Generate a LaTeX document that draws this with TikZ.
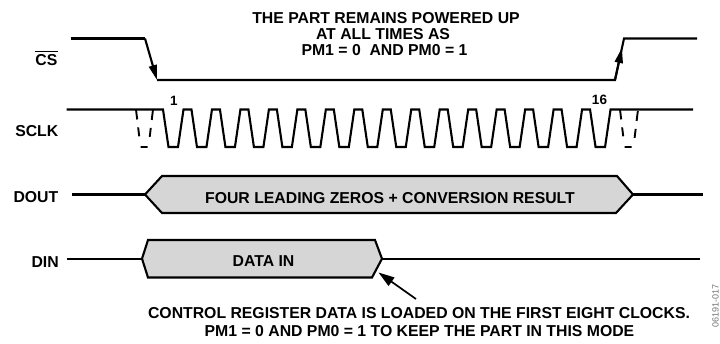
\documentclass[tikz,border=0pt]{standalone}
\usepackage{fontspec}
\setmainfont{Liberation Sans}
\usetikzlibrary{arrows.meta}
\begin{document}
\begin{tikzpicture}[x=1pt,y=-1pt,
  sig/.style={line width=2.1pt},
  bus/.style={line width=2.1pt, fill=black!16, line join=miter},
  lbl/.style={font=\fontsize{15.8}{16}\selectfont\bfseries, inner sep=0pt},
  num/.style={font=\fontsize{13.5}{14}\selectfont\bfseries, inner sep=0pt},
  code/.style={font=\fontsize{9}{9}\selectfont, text=black!55, inner sep=0pt},
  ghost/.style={line width=1.9pt, dash pattern=on 10pt off 8pt on 9pt off 11pt on 7pt off 11pt on 9pt off 8pt on 10pt off 100pt},
  arr/.style={-{Triangle[length=15pt,width=8pt]}},
  arrb/.style={-{Triangle[length=16pt,width=10pt]}}
]
\useasboundingbox (0,0) rectangle (720,343);

% ---- coordinates
\coordinate (csA) at (70.7,38.5);
\coordinate (csB) at (145,38.5);
\coordinate (csC) at (157,80);
\coordinate (csD) at (615,80);
\coordinate (csE) at (624,38.5);
\coordinate (csF) at (697,38.5);
\coordinate (csM) at (621.9,48);

% ---- CS
\draw[sig] (csA) -- (csB);
\draw[sig,arr] (csB) -- (csC);
\draw[sig] (csC) -- (csD) -- (csE) -- (csF);
\draw[sig,arr] (csD) -- (csM);

% ---- SCLK
\draw[sig] (66.7,109.5) foreach \i in {0,...,15} { -- ({163+28.47*\i},109.5) -- ++(5.5,37.5) -- ++(9.5,0) -- ++(5.5,-37.5) } -- (693,109.5);
\draw[ghost] (136,109.5) -- (140.5,147) -- (148.5,147) -- (153,109.5);
\draw[ghost] (620,109.5) -- (624.5,147) -- (633.5,147) -- (638,109.5);

% ---- DOUT
\coordinate (doL) at (145,194.5);
\coordinate (doR) at (633,194.5);
\draw[sig] (72,194.5) -- (doL);
\draw[bus] (doL) -- (162,176) -- (617,176) -- (doR) -- (616,213) -- (162,213) -- cycle;
\draw[sig] (doR) -- (703,194.5);

% ---- DIN
\coordinate (diL) at (142,258.7);
\coordinate (diR) at (382,258.7);
\draw[sig] (67,258.7) -- (diL);
\draw[bus] (diL) -- (148,240) -- (375,240) -- (diR) -- (372,277.5) -- (148,277.5) -- cycle;
\draw[sig] (diR) -- (700,258.7);

% ---- annotation arrow
\coordinate (anS) at (416,299);
\coordinate (anT) at (378.5,272.5);
\draw[line width=1.7pt,arrb] (anS) -- (anT);

% ---- signal labels
\node[lbl, anchor=base east] (cslbl) at (57.5,65.7) {CS};
\draw[line width=1.5pt] ([yshift=3pt]cslbl.north west) -- ([yshift=3pt]cslbl.north east);
\node[lbl, anchor=base east] (sclklbl) at (58.5,136) {SCLK};
\node[lbl, anchor=base east] (doutlbl) at (58.5,202.7) {DOUT};
\node[lbl, anchor=base east] (dinlbl) at (59,267.3) {DIN};

% ---- clock numbers
\node[num, anchor=base] (n1) at (174,105) {1};
\node[num, anchor=base] (n16) at (599.5,104.3) {16};

% ---- bus texts
\node[lbl, anchor=base] (doutt) at (390,203) {FOUR LEADING ZEROS + CONVERSION RESULT};
\node[lbl, anchor=base] (dint) at (263.5,266.7) {DATA IN};

% ---- top note
\node[lbl, anchor=base] (t1) at (386,23.3) {THE PART REMAINS POWERED UP};
\node[lbl, anchor=base] (t2) at (383,39) {AT ALL TIMES AS};
\node[lbl, anchor=base] (t3) at (384.5,55) {PM1 = 0\ \ AND PM0 = 1};

% ---- bottom note
\node[lbl, anchor=base] (b1) at (419,318.3) {CONTROL REGISTER DATA IS LOADED ON THE FIRST EIGHT CLOCKS.};
\node[lbl, anchor=base] (b2) at (419.5,336) {PM1 = 0 AND PM0 = 1 TO KEEP THE PART IN THIS MODE};

% ---- figure code
\node[code, rotate=90] (fig) at (715.5,306) {06191-017};
\end{tikzpicture}
\end{document}
